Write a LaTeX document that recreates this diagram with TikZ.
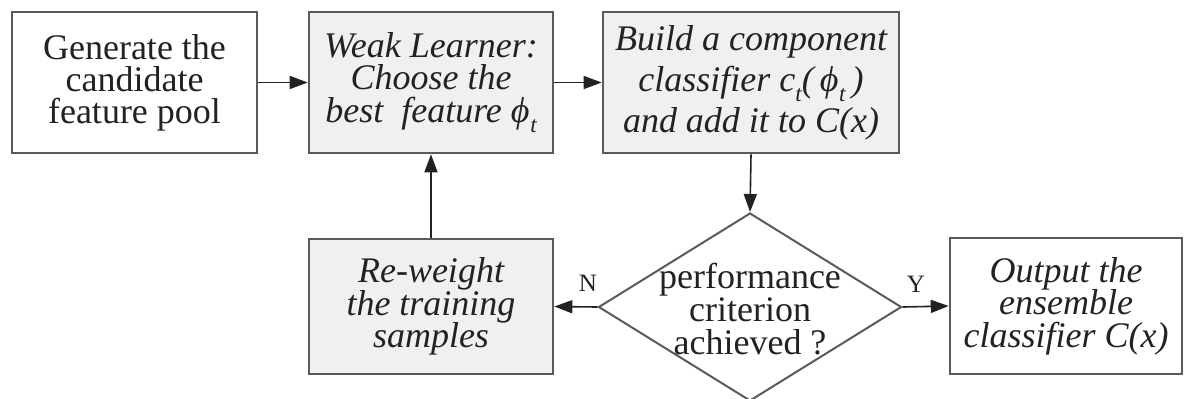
\documentclass[tikz,border=0pt]{standalone}
\usepackage{fontspec}
\setmainfont{Liberation Serif}
\usetikzlibrary{arrows.meta,shapes.geometric}
\definecolor{edgegray}{HTML}{5A5A5A}
\definecolor{boxfill}{HTML}{F0F0F0}
\definecolor{inkgray}{HTML}{222222}
\newcommand{\subt}{\raisebox{-0.28em}{\fontsize{11.5}{11.5}\selectfont\itshape t}}
\newcommand{\phit}{ϕ\kern0.02em\subt}
\begin{document}
\begin{tikzpicture}[x=0.5pt,y=-0.5pt,
  every node/.style={execute at begin node={\lineskiplimit=-20pt}},
  stepbox/.style={draw=edgegray,line width=1.3pt,inner sep=0pt,align=center,
    text=inkgray,font=\fontsize{18}{16.25}\selectfont\itshape},
  plainbox/.style={stepbox,fill=white,font=\fontsize{18}{16}\selectfont},
  shadebox/.style={stepbox,fill=boxfill},
  flow/.style={draw=inkgray,line width=0.8pt,-{Triangle[length=9pt,width=6.5pt]}},
  decision/.style={diamond,draw=edgegray,line width=1pt,inner sep=0pt,
    minimum width=151.5pt,minimum height=94pt},
  yesno/.style={text=inkgray,font=\fontsize{12.5}{12.5}\selectfont}]
\useasboundingbox (0,0) rectangle (1186,398);

\node[plainbox,minimum width=122.5pt,minimum height=70.5pt] (gen) at (134.5,82.5)
  {Generate the\\candidate\\feature pool};
\node[shadebox,minimum width=122pt,minimum height=70.5pt] (weak) at (431,82.5)
  {Weak Learner:\\Choose the\\best\enspace feature \phit};
\node[shadebox,minimum width=148pt,minimum height=70.5pt,
  font=\fontsize{18}{20.5}\selectfont\itshape] (build) at (751,82.5)
  {Build a component\\classifier c\subt(\,\phit\,)\\and add it to C(x)};
\node[decision,label={[align=center,text=inkgray,yshift=-1pt,
  font=\fontsize{18}{16.5}\selectfont]center:performance\\criterion\\achieved ?}]
  (crit) at (750,307) {};
\node[shadebox,minimum width=122pt,minimum height=67.5pt] (rew) at (431,306.5)
  {Re-weight\\the training\\samples};
\node[stepbox,fill=white,minimum width=116pt,minimum height=68pt] (out) at (1066,306)
  {Output the\\ensemble\\classifier C(x)};

\draw[flow] (gen.east) -- (weak.west);
\draw[flow] (weak.east) -- (build.west);
\draw[flow] (build.south) -- (crit.north);
\draw[flow] (crit.east) -- (out.west);
\draw[flow] (crit.west) -- (rew.east);
\draw[flow] (rew.north) -- (weak.south);

\node[yesno] (no) at (588,283) {N};
\node[yesno] (yes) at (916,284) {Y};
\end{tikzpicture}
\end{document}
